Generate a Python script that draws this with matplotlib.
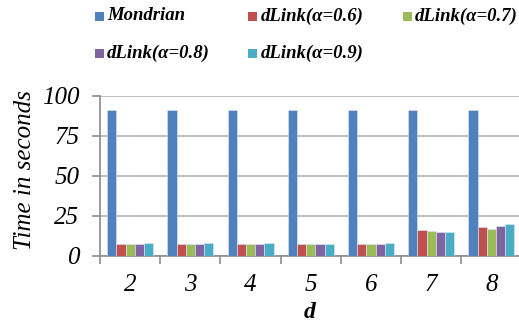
import matplotlib
matplotlib.use("Agg")
import matplotlib.pyplot as plt
import numpy as np
from matplotlib.patches import Rectangle

categories = ["2", "3", "4", "5", "6", "7", "8"]
series_names = ["Mondrian", "dLink(α=0.6)", "dLink(α=0.7)", "dLink(α=0.8)", "dLink(α=0.9)"]
mondrian = [91, 91, 91, 91, 91, 91, 91]
dlink_06 = [7.8, 7.8, 7.8, 7.8, 7.6, 16.2, 18.1]
dlink_07 = [7.7, 7.7, 7.8, 7.8, 7.8, 15.6, 17.0]
dlink_08 = [7.7, 7.7, 7.7, 7.7, 7.8, 14.8, 19.0]
dlink_09 = [8.2, 8.3, 7.9, 7.8, 7.9, 15.0, 20.0]
y_ticks = [0, 25, 50, 75, 100]
colors = ["#4F81BD", "#C0504D", "#9BBB59", "#8064A2", "#4BACC6"]

plt.rcParams["font.family"] = ["Liberation Serif", "DejaVu Serif"]
plt.rcParams["font.style"] = "italic"

W, H = 519, 325
fig = plt.figure(figsize=(W / 100, H / 100), dpi=100)
ax = fig.add_axes([100 / W, 1 - 256 / H, 421.5 / W, 160 / H])

data = [mondrian, dlink_06, dlink_07, dlink_08, dlink_09]
x = np.arange(len(categories))
bw = 0.153
for i, (vals, c) in enumerate(zip(data, colors)):
    ax.bar(x + (i - 2) * bw, vals, width=bw, color=c, edgecolor="#dce8f4", linewidth=0.4, zorder=3)

ax.set_xlim(-0.5, len(categories) - 0.5)
ax.set_ylim(0, 100)
ax.set_yticks(y_ticks)
ax.set_yticklabels([str(t) for t in y_ticks])
ax.set_xticks(x)
ax.set_xticklabels(categories)
ax.tick_params(axis="x", which="major", length=0, pad=13, labelsize=18)
ax.set_xticks(np.arange(-0.5, len(categories) + 0.5, 1), minor=True)
ax.tick_params(axis="x", which="minor", length=6, width=1.2, color="#8c8c8c")
ax.tick_params(axis="y", length=5.8, width=1.2, color="#8c8c8c", pad=9, labelsize=18)
for lbl in ax.get_xticklabels() + ax.get_yticklabels():
    lbl.set_fontstyle("italic")
ax.yaxis.grid(True, color="#bfbfbf", linewidth=1.5, zorder=0)
ax.set_axisbelow(True)
for s in ["top", "right"]:
    ax.spines[s].set_visible(False)
for s in ["left", "bottom"]:
    ax.spines[s].set_color("#8c8c8c")
    ax.spines[s].set_linewidth(1.2)

ax.set_ylabel("Time in seconds", fontsize=18)
ax.yaxis.set_label_coords((36 - 100) / 421.5, (256 - 170.5) / 160)
ax.set_xlabel("d", weight="bold", fontsize=17)
ax.xaxis.set_label_coords((310 - 100) / 421.5, -(313 - 256) / 160)
ax.xaxis.label.set_va("center")

# legend (row-major, like the reference)
sq_x = [95, 248, 403]
tx_x = [107, 261, 415]
row_y = [16, 53]
for k, (name, c) in enumerate(zip(series_names, colors)):
    r, col = divmod(k, 3)
    fig.patches.append(Rectangle((sq_x[col] / W, 1 - (row_y[r] + 4.5) / H), 9 / W, 9 / H,
                                 transform=fig.transFigure, facecolor=c, edgecolor="none"))
    fig.text(tx_x[col] / W, 1 - row_y[r] / H, name, ha="left", va="center",
             fontsize=13.5, weight="bold", style="italic")

fig.savefig("out.png", dpi=100)
